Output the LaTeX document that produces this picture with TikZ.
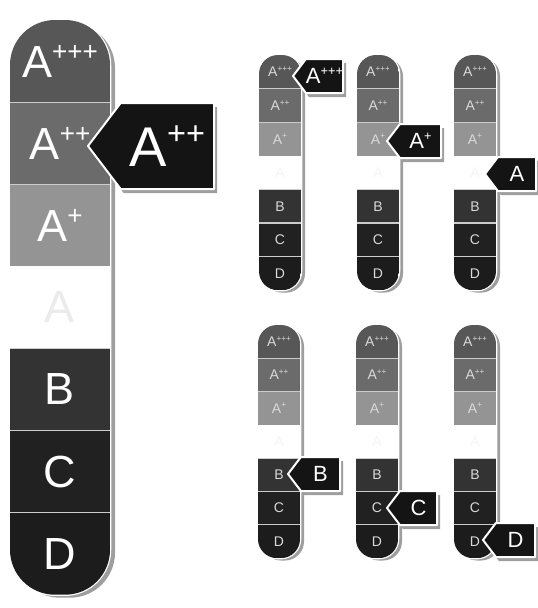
\documentclass[tikz,border=0pt]{standalone}
\usepackage{fontspec}
\setsansfont{Liberation Sans}
\definecolor{cAAA}{gray}{0.34}
\definecolor{cAA}{gray}{0.42}
\definecolor{cAone}{gray}{0.58}
\definecolor{cAzero}{gray}{1}
\definecolor{cB}{gray}{0.2}
\definecolor{cC}{gray}{0.13}
\definecolor{cD}{gray}{0.11}
\definecolor{tagc}{gray}{0.08}
\definecolor{shadowc}{gray}{0.62}
\definecolor{sepc}{gray}{0.8}
\newcommand\plusup[1]{\raisebox{0.38em}{\scalebox{0.58}{#1}}}
\tikzset{
  barlabel/.style={inner sep=0pt, font=\sffamily},
  tagshadow/.style={fill=shadowc},
  tagbody/.style={fill=tagc, draw=white, line width=2pt, line join=round},
  taglabel/.style={inner sep=0pt, text=white, font=\sffamily},
}
% #1 name, #2 x, #3 ytop, #4 width, #5 band height, #6 radius, #7 font size, #8 text colour, #9 shadow offset
\newcommand\ratingbar[9]{%
  \fill[shadowc, rounded corners=#6] (#2+#9,#3+#9*0.6) rectangle (#2+#4+#9,#3+7*#5+#9*0.6);
  \filldraw[fill=white, draw=white, line width=2.5pt, rounded corners=#6] (#2,#3) rectangle (#2+#4,#3+7*#5);
  \begin{scope}
    \clip[rounded corners=#6] (#2,#3) rectangle (#2+#4,#3+7*#5);
    \foreach \i/\c in {0/cAAA,1/cAA,2/cAone,3/cAzero,4/cB,5/cC,6/cD}
      \fill[\c] (#2,#3+\i*#5) rectangle (#2+#4,#3+\i*#5+#5);
    \foreach \i in {1,2,4,5,6}
      \draw[sepc, line width=1.2pt] (#2,#3+\i*#5) -- (#2+#4,#3+\i*#5);
  \end{scope}
  \node[barlabel, text=#8, font={\fontsize{#7}{#7}\selectfont\sffamily}] (#1-aaa) at (#2+#4/2,#3+0.5*#5) {A\plusup{+++}};
  \node[barlabel, text=#8, font={\fontsize{#7}{#7}\selectfont\sffamily}] (#1-aa) at (#2+#4/2,#3+1.5*#5) {A\plusup{++}};
  \node[barlabel, text=#8, font={\fontsize{#7}{#7}\selectfont\sffamily}] (#1-a1) at (#2+#4/2,#3+2.5*#5) {A\plusup{+}};
  \node[barlabel, text=#1faint, font={\fontsize{#7}{#7}\selectfont\sffamily}] (#1-a0) at (#2+#4/2,#3+3.5*#5) {A};
  \node[barlabel, text=#8, font={\fontsize{#7}{#7}\selectfont\sffamily}] (#1-b) at (#2+#4/2,#3+4.5*#5) {B};
  \node[barlabel, text=#8, font={\fontsize{#7}{#7}\selectfont\sffamily}] (#1-c) at (#2+#4/2,#3+5.5*#5) {C};
  \node[barlabel, text=#8, font={\fontsize{#7}{#7}\selectfont\sffamily}] (#1-d) at (#2+#4/2,#3+6.5*#5) {D};
}
\definecolor{bigfaint}{gray}{0.92}
\definecolor{s1faint}{gray}{0.96}
\colorlet{s2faint}{s1faint}
\colorlet{s3faint}{s1faint}
\colorlet{s4faint}{s1faint}
\colorlet{s5faint}{s1faint}
\colorlet{s6faint}{s1faint}
% #1 name, #2 x of point, #3 y mid, #4 width, #5 height, #6 font size, #7 text
\newcommand\ratingtag[7]{%
  \fill[tagshadow] (#2+3,#3+4) -- (#2+0.38*#5+3,#3-#5/2+4) -- (#2+#4+3,#3-#5/2+4) -- (#2+#4+3,#3+#5/2+4) -- (#2+0.38*#5+3,#3+#5/2+4) -- cycle;
  \filldraw[tagbody] (#2,#3) -- (#2+0.38*#5,#3-#5/2) -- (#2+#4,#3-#5/2) -- (#2+#4,#3+#5/2) -- (#2+0.38*#5,#3+#5/2) -- cycle;
  \node[taglabel, font={\fontsize{#6}{#6}\selectfont\sffamily}] (#1) at (#2+0.19*#5+#4/2,#3) {#7};
}
\begin{document}
\begin{tikzpicture}[x=1pt,y=-1pt]
\useasboundingbox (0,0) rectangle (538,608);
% big bar
\ratingbar{big}{10}{20}{100}{82.1}{45}{45}{white}{5}
\ratingtag{bigtag}{88}{146}{126}{86}{56}{A\plusup{++}}
% small bars, top row
\ratingbar{s1}{259}{55}{42}{33.6}{19}{14}{gray!30}{4}
\ratingbar{s2}{357}{55}{42}{33.6}{19}{14}{gray!30}{4}
\ratingbar{s3}{454}{55}{42}{33.6}{19}{14}{gray!30}{4}
\ratingtag{t1}{293}{76}{50}{34}{22}{A\plusup{+++}}
\ratingtag{t2}{387}{141}{54}{34}{22}{A\plusup{+}}
\ratingtag{t3}{485}{174}{51}{34}{22}{A}
% small bars, bottom row
\ratingbar{s4}{258}{325}{42}{33.3}{19}{14}{gray!30}{4}
\ratingbar{s5}{356}{325}{42}{33.3}{19}{14}{gray!30}{4}
\ratingbar{s6}{454}{325}{42}{33.3}{19}{14}{gray!30}{4}
\ratingtag{tb}{288}{474}{52}{34}{22}{B}
\ratingtag{tc}{387}{508}{50}{34}{22}{C}
\ratingtag{td}{483}{540}{52}{34}{22}{D}
\end{tikzpicture}
\end{document}
